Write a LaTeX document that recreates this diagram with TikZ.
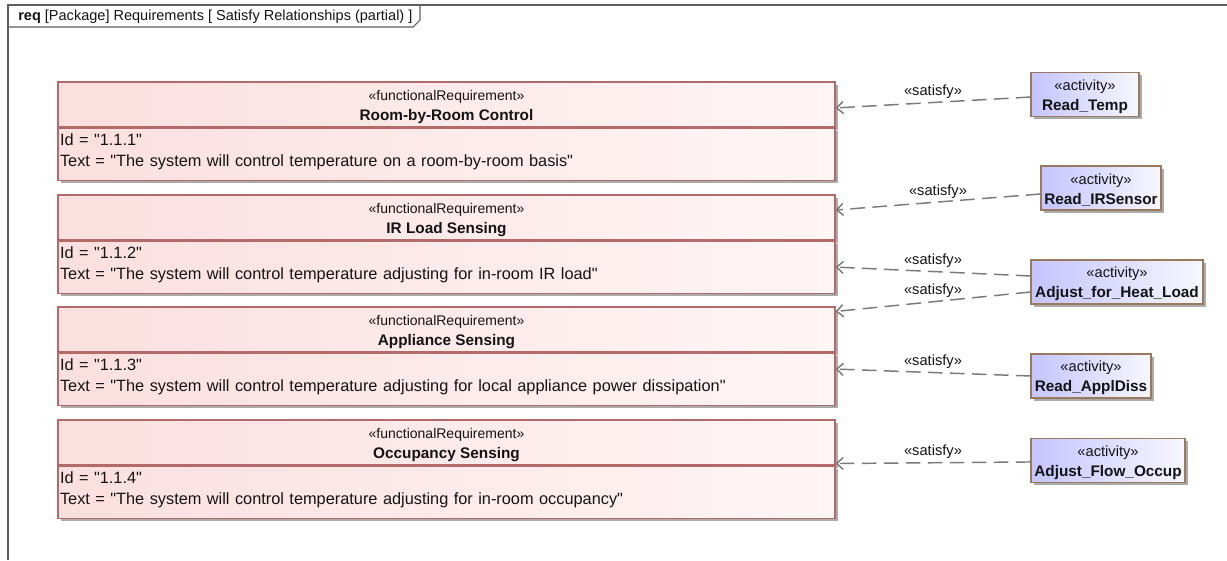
\documentclass[tikz,border=0pt]{standalone}
\usepackage{fontspec}
\setmainfont{Liberation Sans}
\usepackage{xcolor}
\usepackage{tikz}
\usetikzlibrary{arrows.meta,shadows}
\definecolor{ink}{HTML}{141414}
\definecolor{frame}{HTML}{5E5E5E}
\definecolor{reqBorder}{HTML}{B26A6A}
\definecolor{reqLeft}{HTML}{FCDFDF}
\definecolor{reqRight}{HTML}{FFF5F5}
\definecolor{actBorder}{HTML}{9A7A5E}
\definecolor{actLeft}{HTML}{C4C4FF}
\definecolor{actRight}{HTML}{F7F7FF}
\definecolor{link}{HTML}{7A7A7A}
\definecolor{shade}{HTML}{ABABAB}
\newcommand{\stereoFont}{\fontsize{10.5}{13}\selectfont}
\newcommand{\smallStereo}{\fontsize{11}{13}\selectfont}
\newcommand{\nameFont}{\fontsize{11.5}{13}\selectfont\bfseries}
\newcommand{\qq}[1]{\textquotedbl#1\textquotedbl}
\tikzset{
  frameLine/.style={draw=frame, line width=0.8pt},
  titleText/.style={text=ink, font=\fontsize{10.9}{12}\selectfont, anchor=west, inner sep=0pt},
  boxShadow/.style={drop shadow={shadow xshift=2.2pt, shadow yshift=-2.2pt, fill=shade, opacity=1}},
  reqHead/.style={draw=reqBorder, line width=0.8pt, left color=reqLeft, right color=reqRight,
    minimum width=582.75pt, minimum height=33.75pt, inner sep=0pt, align=center, text=ink, boxShadow},
  reqBody/.style={draw=reqBorder, line width=0.8pt, left color=reqLeft, right color=reqRight,
    minimum width=582.75pt, minimum height=39pt, inner xsep=1.5pt, inner ysep=0pt,
    text width=579.75pt, align=left, text=ink, font=\fontsize{12.25}{15.75}\selectfont, boxShadow},
  actBox/.style={draw=actBorder, line width=0.8pt, left color=actLeft, right color=actRight,
    minimum height=33pt, inner sep=0pt, align=center, text=ink, boxShadow},
  satisfyLine/.style={draw=link, line width=1.1pt, dash pattern=on 11pt off 5.5pt,
    -{Straight Barb[length=5pt,width=9pt]}},
  satisfyLabel/.style={midway, above=-1pt, text=ink, font=\smallStereo}
}

\begin{document}
\begin{tikzpicture}[x=0.75pt, y=-0.75pt]
  \fill[white] (0,0) rectangle (1227,560);
  \useasboundingbox (0,0) rectangle (1227,560);

  % diagram frame
  \draw[frameLine] (8,560) -- (8,5) -- (1227,5);
  \draw[frameLine] (8,27) -- (413,27) -- (420,20) -- (420,5);
  \node[titleText] (title) at (18,16.5) {\textbf{req} [Package] Requirements [ Satisfy Relationships (partial) ]};

  % requirements
  \node[reqHead] (rh1) at (446.5,104.5) {{\stereoFont\rule{0pt}{12pt}«functionalRequirement»}\\[3pt]{\nameFont Room-by-Room Control}};
  \node[reqBody, anchor=north] (rb1) at (rh1.south) {Id = \qq{1.1.1}\\Text = \qq{The system will control temperature on a room-by-room basis}\vspace*{3pt}};

  \node[reqHead] (rh2) at (446.5,217.5) {{\stereoFont\rule{0pt}{12pt}«functionalRequirement»}\\[3pt]{\nameFont IR Load Sensing}};
  \node[reqBody, anchor=north] (rb2) at (rh2.south) {Id = \qq{1.1.2}\\Text = \qq{The system will control temperature adjusting for in-room IR load}\vspace*{3pt}};

  \node[reqHead] (rh3) at (446.5,329.5) {{\stereoFont\rule{0pt}{12pt}«functionalRequirement»}\\[3pt]{\nameFont Appliance Sensing}};
  \node[reqBody, anchor=north] (rb3) at (rh3.south) {Id = \qq{1.1.3}\\Text = \qq{The system will control temperature adjusting for local appliance power dissipation}\vspace*{3pt}};

  \node[reqHead] (rh4) at (446.5,442.5) {{\stereoFont\rule{0pt}{12pt}«functionalRequirement»}\\[3pt]{\nameFont Occupancy Sensing}};
  \node[reqBody, anchor=north] (rb4) at (rh4.south) {Id = \qq{1.1.4}\\Text = \qq{The system will control temperature adjusting for in-room occupancy}\vspace*{3pt}};

  % activities
  \node[actBox, minimum width=81pt] (a1) at (1085,94.5) {{\smallStereo\rule{0pt}{11pt}«activity»}\\[3pt]{\nameFont Read\_Temp}};
  \node[actBox, minimum width=90pt] (a2) at (1101,188) {{\smallStereo\rule{0pt}{11pt}«activity»}\\[3pt]{\nameFont Read\_IRSensor}};
  \node[actBox, minimum width=129pt] (a3) at (1117,282) {{\smallStereo\rule{0pt}{11pt}«activity»}\\[3pt]{\nameFont Adjust\_for\_Heat\_Load}};
  \node[actBox, minimum width=90pt] (a4) at (1091,376) {{\smallStereo\rule{0pt}{11pt}«activity»}\\[3pt]{\nameFont Read\_ApplDiss}};
  \node[actBox, minimum width=115.5pt] (a5) at (1108,460.5) {{\smallStereo\rule{0pt}{11pt}«activity»}\\[3pt]{\nameFont Adjust\_Flow\_Occup}};

  % satisfy links
  \draw[satisfyLine] ([yshift=-1.9pt]a1.west) -- node[satisfyLabel] {«satisfy»} ([yshift=-2.6pt]rh1.east);
  \draw[satisfyLine] ([yshift=-4.5pt]a2.west) -- node[satisfyLabel] {«satisfy»} ([yshift=5.6pt]rh2.east);
  \draw[satisfyLine] ([yshift=4.5pt]a3.west) -- node[satisfyLabel] {«satisfy»} (rb2.east);
  \draw[satisfyLine] ([yshift=-7.5pt]a3.west) -- node[satisfyLabel] {«satisfy»} ([yshift=-3.75pt]rh3.north east);
  \draw[satisfyLine] (a4.west) -- node[satisfyLabel] {«satisfy»} ([yshift=7.5pt]rb3.east);
  \draw[satisfyLine] ([yshift=-1.1pt]a5.west) -- node[satisfyLabel] {«satisfy»} ([yshift=1.5pt]rh4.south east);
\end{tikzpicture}
\end{document}
